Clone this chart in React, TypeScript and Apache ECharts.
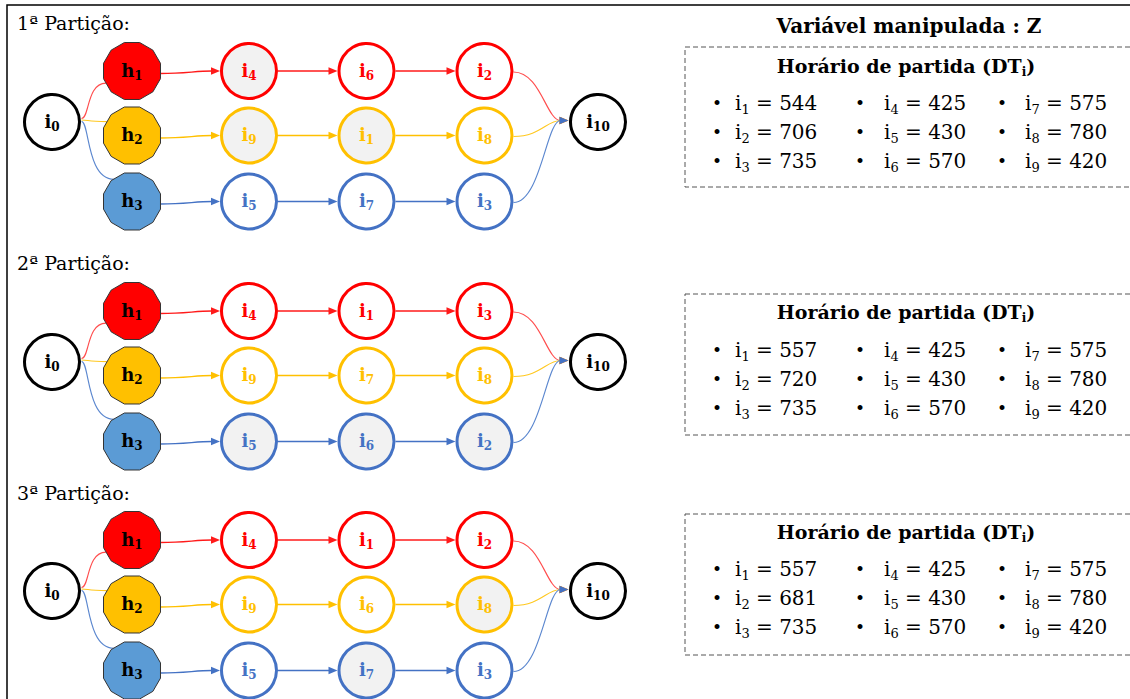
import React, { useEffect, useRef } from "react";
import * as echarts from "echarts";

const FONT = '"DejaVu Serif", "Liberation Serif", serif';

// ---------------- data ----------------
const partitionLabels = ["1ª Partição:", "2ª Partição:", "3ª Partição:"];
const vehicleSubs = ["1", "2", "3"];
const routes = [
  [[4, 6, 2], [9, 1, 8], [5, 7, 3]],
  [[4, 1, 3], [9, 7, 8], [5, 6, 2]],
  [[4, 1, 2], [9, 6, 8], [5, 7, 3]],
];
const shadedNodes = [[4, 9, 1], [5, 6, 2], [8, 7]];
const customerIds = [1, 2, 3, 4, 5, 6, 7, 8, 9];
const departureTimes = [
  [544, 706, 735, 425, 430, 570, 575, 780, 420],
  [557, 720, 735, 425, 430, 570, 575, 780, 420],
  [557, 681, 735, 425, 430, 570, 575, 780, 420],
];
const mainTitle = "Variável manipulada : Z";
const boxTitle = "Horário de partida (DT";
const boxTitleSub = "i";
const depotStart = "0";
const depotEnd = "10";

// ---------------- layout ----------------
const PART_DY = [0, 240, 469];
const COL_X = [52, 132, 249, 366.5, 484.5, 598];
const ROW_Y = [71, 135.5, 201.5];
const HUB_Y = 122;
const R = 27.5;
const HR = 29.5;
const ROUTE_COLORS = ["#FF0000", "#FFC000", "#4472C4"];
const LINE_COLORS = ["#FF1A1A", "#FFC000", "#4472C4"];
const SOFT_LINE_COLORS = ["#FF4D4D", "#FFC81F", "#5B87CF"];
const H_FILLS = ["#FF0000", "#FFC000", "#5B9BD5"];
const SHADE = "#F2F2F2";
const H_END_ANGLE = [155, 209, 231];

const BOX_TOP = [47, 294, 514];
const BOX_BOTTOM = [187, 435, 655];
const BOX_TITLE_Y = [66, 312, 532];
const BOX_ROW_Y0 = [103, 350, 569];
const ROW_STEP = 29;
const BULLET_X = [717, 860, 1002];
const ITEM_X = [735, 884, 1025];

// ---------------- text helpers ----------------
type Seg = { t: string; size: number; bold?: boolean; sub?: boolean; fill: string };

let measureCtx: CanvasRenderingContext2D | null = null;
function measure(s: Seg) {
  if (!measureCtx) measureCtx = document.createElement("canvas").getContext("2d");
  const ctx = measureCtx as CanvasRenderingContext2D;
  ctx.font = `${s.bold ? "bold " : ""}${s.size}px ${FONT}`;
  return ctx.measureText(s.t).width;
}

function segText(segs: Seg[], x: number, y: number, align: "left" | "center") {
  const mainSize = Math.max(...segs.map((s) => s.size));
  const widths = segs.map((s) => measure(s));
  const total = widths.reduce((a, b) => a + b, 0);
  let cur = align === "center" ? x - total / 2 : x;
  const out: any[] = [];
  segs.forEach((s, i) => {
    const dy = s.sub ? 0.35 * (mainSize - s.size) + 0.2 * mainSize : 0;
    out.push({
      type: "text",
      x: cur,
      y: y + dy,
      silent: true,
      style: {
        text: s.t,
        fontFamily: FONT,
        fontSize: s.size,
        fontWeight: s.bold ? "bold" : "normal",
        fill: s.fill,
        align: "left",
        verticalAlign: "middle",
      },
    });
    cur += widths[i];
  });
  return out;
}

type NodeT = { x: number; y: number; kind: string; letter: string; sub: string; fill: string; stroke: string; text: string };

function buildNodes(): NodeT[] {
  const nodes: NodeT[] = [];
  PART_DY.forEach((dy, p) => {
    nodes.push({ x: COL_X[0], y: HUB_Y + dy, kind: "c", letter: "i", sub: depotStart, fill: "#ffffff", stroke: "#000000", text: "#000000" });
    nodes.push({ x: COL_X[5], y: HUB_Y + dy, kind: "c", letter: "i", sub: depotEnd, fill: "#ffffff", stroke: "#000000", text: "#000000" });
    routes[p].forEach((route, r) => {
      nodes.push({ x: COL_X[1], y: ROW_Y[r] + dy, kind: "h", letter: "h", sub: vehicleSubs[r], fill: H_FILLS[r], stroke: "#333333", text: "#000000" });
      route.forEach((cid, k) => {
        nodes.push({
          x: COL_X[2 + k],
          y: ROW_Y[r] + dy,
          kind: "c",
          letter: "i",
          sub: String(cid),
          fill: shadedNodes[p].indexOf(cid) >= 0 ? SHADE : "#ffffff",
          stroke: ROUTE_COLORS[r],
          text: ROUTE_COLORS[r],
        });
      });
    });
  });
  return nodes;
}

type EdgeT = number[]; // x0,y0,c1x,c1y,c2x,c2y,x1,y1,color,arrow,soft

function buildEdges(): EdgeT[] {
  const edges: EdgeT[] = [];
  PART_DY.forEach((dy, p) => {
    const hubY = HUB_Y + dy;
    routes[p].forEach((route, r) => {
      const rowY = ROW_Y[r] + dy;
      const sx = COL_X[0] + R + 2;
      const sy = hubY + (r - 1) * 1.5 - 2;
      const a = (H_END_ANGLE[r] * Math.PI) / 180;
      const ex = COL_X[1] + HR * 0.97 * Math.cos(a);
      const ey = rowY + HR * 0.97 * Math.sin(a);
      edges.push([sx, sy, sx + 8, sy, sx + 5, ey, ex, ey, r, 0, 1]);
      const hx = COL_X[1] + HR * 0.97;
      const hy = rowY + 2.5;
      const fx = COL_X[2] - R - 1.5;
      edges.push([hx, hy, hx + 25, hy, fx - 25, rowY, fx, rowY, r, 1, 0]);
      for (let k = 0; k < 2; k++) {
        const x0 = COL_X[2 + k] + R + 1.5;
        const x1 = COL_X[3 + k] - R - 1.5;
        edges.push([x0, rowY, (2 * x0 + x1) / 3, rowY, (x0 + 2 * x1) / 3, rowY, x1, rowY, r, 1, 0]);
      }
      const lx = COL_X[4] + R + 1.5;
      const ly = rowY + 1;
      const tx = COL_X[5] - R - 2;
      const ty = hubY - 1.5;
      edges.push([lx, ly, lx + 27, ly, tx - 22, ty, tx, ty, r, 1, 1]);
    });
  });
  return edges;
}

function buildGraphics() {
  let g: any[] = [];
  g.push({
    type: "rect",
    shape: { x: 7, y: 5, width: 1200, height: 800 },
    style: { fill: "none", stroke: "#000", lineWidth: 1.5 },
    silent: true,
  });
  partitionLabels.forEach((t, p) => {
    g.push({
      type: "text",
      x: 17,
      y: 23 + [0, 240, 470][p],
      style: { text: t, fontFamily: FONT, fontSize: 19, fill: "#000", align: "left", verticalAlign: "middle" },
    });
  });
  g.push({
    type: "text",
    x: 909,
    y: 26,
    style: { text: mainTitle, fontFamily: FONT, fontSize: 20, fontWeight: "bold", fill: "#000", align: "center", verticalAlign: "middle" },
  });
  PART_DY.forEach((_, p) => {
    g.push({
      type: "rect",
      shape: { x: 685, y: BOX_TOP[p], width: 600, height: BOX_BOTTOM[p] - BOX_TOP[p] },
      style: { fill: "none", stroke: "#555", lineWidth: 1, lineDash: [5, 3] },
    });
    g = g.concat(
      segText(
        [
          { t: boxTitle, size: 19, bold: true, fill: "#000" },
          { t: boxTitleSub, size: 12, bold: true, sub: true, fill: "#000" },
          { t: ")", size: 19, bold: true, fill: "#000" },
        ],
        906,
        BOX_TITLE_Y[p],
        "center"
      )
    );
    customerIds.forEach((id, idx) => {
      const col = Math.floor(idx / 3);
      const row = idx % 3;
      const y = BOX_ROW_Y0[p] + row * ROW_STEP;
      g.push({
        type: "text",
        x: BULLET_X[col],
        y: y,
        style: { text: "•", fontFamily: FONT, fontSize: 17, fill: "#000", align: "center", verticalAlign: "middle" },
      });
      g = g.concat(
        segText(
          [
            { t: "i", size: 20, fill: "#000" },
            { t: String(id), size: 13, sub: true, fill: "#000" },
            { t: ` = ${departureTimes[p][idx]}`, size: 20, fill: "#000" },
          ],
          ITEM_X[col],
          y,
          "left"
        )
      );
    });
  });
  return g;
}

export default function App() {
  const ref = useRef<HTMLDivElement>(null);
  useEffect(() => {
    if (!ref.current) return;
    const chart = echarts.init(ref.current, null, { renderer: "svg" });
    const nodes = buildNodes();
    const edges = buildEdges();
    chart.setOption({
      animation: false,
      backgroundColor: "#ffffff",
      grid: { left: 0, right: 0, top: 0, bottom: 0 },
      xAxis: { type: "value", min: 0, max: 1130, show: false },
      yAxis: { type: "value", min: 0, max: 699, inverse: true, show: false },
      graphic: buildGraphics(),
      series: [
        {
          type: "custom",
          name: "edges",
          clip: false,
          silent: true,
          data: edges,
          renderItem: (params: any, api: any) => {
            const v = (i: number) => api.value(i) as number;
            const p0 = api.coord([v(0), v(1)]);
            const c1 = api.coord([v(2), v(3)]);
            const c2 = api.coord([v(4), v(5)]);
            const p1 = api.coord([v(6), v(7)]);
            const soft = v(10) === 1;
            const color = soft ? SOFT_LINE_COLORS[v(8)] : LINE_COLORS[v(8)];
            const arrow = v(9) === 1;
            const children: any[] = [];
            let endX = p1[0];
            let endY = p1[1];
            let dx = p1[0] - c2[0];
            let dy = p1[1] - c2[1];
            let len = Math.hypot(dx, dy);
            if (len < 0.01) {
              dx = p1[0] - p0[0];
              dy = p1[1] - p0[1];
              len = Math.hypot(dx, dy);
            }
            const ux = dx / len;
            const uy = dy / len;
            const AL = 9;
            const AW = 3.8;
            if (arrow) {
              endX = p1[0] - ux * (AL - 1);
              endY = p1[1] - uy * (AL - 1);
            }
            children.push({
              type: "bezierCurve",
              shape: {
                x1: p0[0], y1: p0[1],
                cpx1: c1[0], cpy1: c1[1],
                cpx2: c2[0], cpy2: c2[1],
                x2: endX, y2: endY,
              },
              style: { stroke: color, lineWidth: soft ? 1.15 : 1.3, fill: "none" },
            });
            if (arrow) {
              const bx = p1[0] - ux * AL;
              const by = p1[1] - uy * AL;
              children.push({
                type: "polygon",
                shape: {
                  points: [
                    [p1[0], p1[1]],
                    [bx - uy * AW, by + ux * AW],
                    [bx + uy * AW, by - ux * AW],
                  ],
                },
                style: { fill: LINE_COLORS[v(8)], stroke: "none" },
              });
            }
            return { type: "group", children };
          },
        },
        {
          type: "custom",
          name: "nodes",
          clip: false,
          silent: true,
          data: nodes.map((n, i) => [n.x, n.y, i]),
          renderItem: (params: any, api: any) => {
            const n = nodes[api.value(2) as number];
            const [px, py] = api.coord([api.value(0), api.value(1)]);
            let children: any[] = [];
            if (n.kind === "h") {
              const pts: number[][] = [];
              for (let k = 0; k < 12; k++) {
                const a = ((15 + 30 * k) * Math.PI) / 180;
                pts.push([px + HR * Math.cos(a), py + HR * Math.sin(a)]);
              }
              children.push({
                type: "polygon",
                shape: { points: pts },
                style: { fill: n.fill, stroke: n.stroke, lineWidth: 1 },
              });
            } else {
              children.push({
                type: "circle",
                shape: { cx: px, cy: py, r: R },
                style: { fill: n.fill, stroke: n.stroke, lineWidth: 3 },
              });
            }
            children = children.concat(
              segText(
                [
                  { t: n.letter, size: 18, bold: true, fill: n.text },
                  { t: n.sub, size: 12, bold: true, sub: true, fill: n.text },
                ],
                px,
                py - 1,
                "center"
              )
            );
            return { type: "group", children };
          },
        },
      ],
    });
    return () => chart.dispose();
  }, []);
  return (
    <div
      ref={ref}
      style={{ position: "absolute", left: 0, top: 0, width: 1130, height: 699, background: "#fff" }}
    />
  );
}
